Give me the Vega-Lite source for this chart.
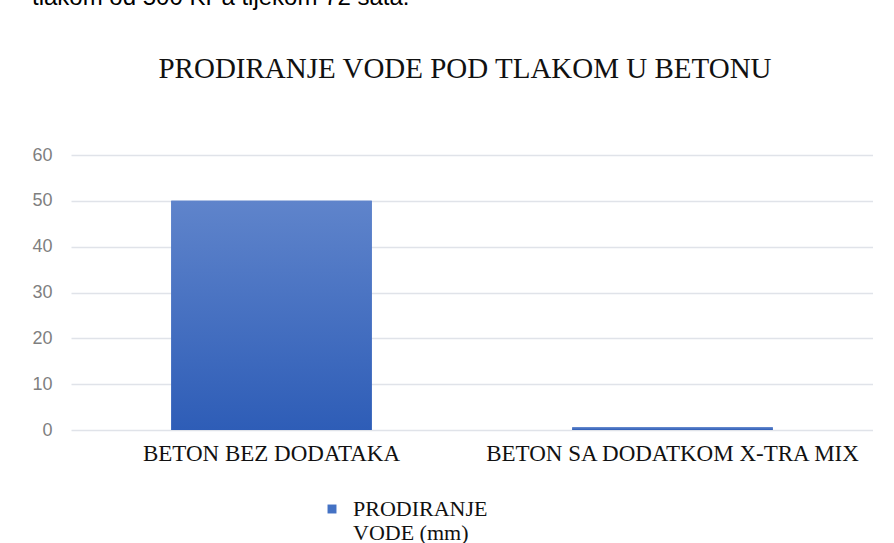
{
  "$schema": "https://vega.github.io/schema/vega-lite/v6.json",
  "background": "white",
  "padding": {"left": 31, "top": -14, "right": 0, "bottom": 0},
  "title": {
    "text": "tlakom od 500 KPa tijekom 72 sata.",
    "anchor": "start",
    "frame": "bounds",
    "font": "Liberation Sans",
    "fontSize": 24,
    "fontWeight": "normal",
    "color": "#000000",
    "offset": 45
  },
  "data": {
    "values": [
      {"beton": "BETON BEZ DODATAKA", "prodiranje": 50, "serija": "PRODIRANJE VODE (mm)"},
      {"beton": "BETON SA DODATKOM X-TRA MIX", "prodiranje": 0.6, "serija": "PRODIRANJE VODE (mm)"}
    ]
  },
  "vconcat": [
    {
      "width": 802,
      "height": 275,
      "title": {
        "text": "PRODIRANJE VODE POD TLAKOM U BETONU",
        "anchor": "middle",
        "frame": "group",
        "font": "'Liberation Serif', 'Times New Roman', 'DejaVu Serif', serif",
        "fontSize": 29,
        "fontWeight": "normal",
        "color": "#111111",
        "offset": 62,
        "dx": -7
      },
      "encoding": {
        "x": {
          "field": "beton",
          "type": "nominal",
          "sort": null,
          "scale": {"paddingInner": 0.5, "paddingOuter": 0.25},
          "axis": {
            "title": null,
            "labelAngle": 0,
            "labelFont": "'Liberation Serif', 'Times New Roman', 'DejaVu Serif', serif",
            "labelFontSize": 23,
            "labelColor": "#111111",
            "labelPadding": 12,
            "labelLimit": 0,
            "ticks": false,
            "domain": false
          }
        },
        "y": {
          "field": "prodiranje",
          "type": "quantitative",
          "scale": {"domain": [0, 60]},
          "axis": {
            "title": null,
            "values": [0, 10, 20, 30, 40, 50, 60],
            "labelFont": "Liberation Sans",
            "labelFontSize": 18,
            "labelColor": "#7f7f7f",
            "labelPadding": 19,
            "ticks": false,
            "domain": false,
            "grid": true,
            "gridColor": "#e0e3e9",
            "gridWidth": 1.5
          }
        }
      },
      "layer": [
        {
          "mark": {"type": "bar"},
          "encoding": {
            "color": {
              "field": "serija",
              "type": "nominal",
              "scale": {"range": ["#4472c4"]},
              "legend": {
                "title": null,
                "orient": "none",
                "legendX": 250,
                "legendY": 343,
                "symbolType": "square",
                "symbolSize": 80,
                "symbolOpacity": 1,
                "labelFont": "'Liberation Serif', 'Times New Roman', 'DejaVu Serif', serif",
                "labelFontSize": 22,
                "labelColor": "#111111",
                "labelLimit": 0,
                "labelOffset": 10,
                "labelExpr": "['PRODIRANJE', 'VODE (mm)']"
              }
            }
          }
        },
        {
          "mark": {
            "type": "bar",
            "color": {
              "gradient": "linear",
              "x1": 0, "y1": 0, "x2": 0, "y2": 1,
              "stops": [
                {"offset": 0, "color": "#5f84cb"},
                {"offset": 1, "color": "#2e5db7"}
              ]
            }
          }
        }
      ]
    }
  ],
  "config": {
    "view": {"stroke": null}
  }
}
